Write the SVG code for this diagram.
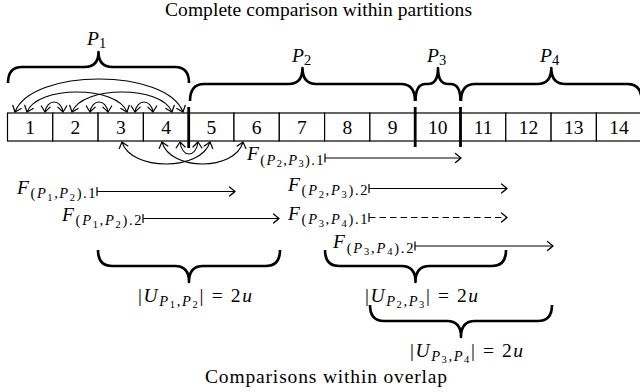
<svg xmlns="http://www.w3.org/2000/svg" width="640" height="392" viewBox="0 0 640 392" font-family="'Liberation Serif', 'DejaVu Serif', serif">
<style>
text{font-family:"Liberation Serif","DejaVu Serif",serif;fill:#000;font-size:19.5px}
.i{font-style:italic}
.s{font-size:14.5px}
.ss{font-size:10.5px}
.cell rect{fill:#fff;stroke:#000;stroke-width:1.2}
.num{text-anchor:middle}
.brace{fill:none;stroke:#000;stroke-width:2.6;stroke-linejoin:round;stroke-linecap:butt}
.sep{stroke:#000;stroke-width:2.8}
.arc{fill:none;stroke:#000;stroke-width:1.1;marker-start:url(#ah);marker-end:url(#ah)}
.farr{fill:none;stroke:#000;stroke-width:1.2;marker-start:url(#bar);marker-end:url(#ah)}
.dash{stroke-dasharray:6.5 4}
</style>
<defs>
<marker id="ah" markerUnits="userSpaceOnUse" viewBox="-7 -6 8 12" refX="0" refY="0" markerWidth="8" markerHeight="12" orient="auto-start-reverse">
<path d="M-5.5,-4.5 Q-1.8,-1.5 0,0 Q-1.8,1.5 -5.5,4.5" fill="none" stroke="#000" stroke-width="1.2" stroke-linecap="round"/>
</marker>
<marker id="bar" markerUnits="userSpaceOnUse" viewBox="-2 -6 4 12" refX="0" refY="0" markerWidth="4" markerHeight="12" orient="auto">
<path d="M0,-4.5 L0,4.5" stroke="#000" stroke-width="1.2"/>
</marker>
</defs>

<text x="165" y="16" textLength="307" lengthAdjust="spacing">Complete comparison within partitions</text>

<g id="cells">
<g id="cell-1" class="cell"><rect x="7.5" y="113" width="45.3" height="28"/><text class="num" x="30.15" y="133.5">1</text></g>
<g id="cell-2" class="cell"><rect x="52.8" y="113" width="45.3" height="28"/><text class="num" x="75.45" y="133.5">2</text></g>
<g id="cell-3" class="cell"><rect x="98.1" y="113" width="45.3" height="28"/><text class="num" x="120.75" y="133.5">3</text></g>
<g id="cell-4" class="cell"><rect x="143.4" y="113" width="45.3" height="28"/><text class="num" x="166.05" y="133.5">4</text></g>
<g id="cell-5" class="cell"><rect x="188.7" y="113" width="45.3" height="28"/><text class="num" x="211.35" y="133.5">5</text></g>
<g id="cell-6" class="cell"><rect x="234" y="113" width="45.3" height="28"/><text class="num" x="256.65" y="133.5">6</text></g>
<g id="cell-7" class="cell"><rect x="279.3" y="113" width="45.3" height="28"/><text class="num" x="301.95" y="133.5">7</text></g>
<g id="cell-8" class="cell"><rect x="324.6" y="113" width="45.3" height="28"/><text class="num" x="347.25" y="133.5">8</text></g>
<g id="cell-9" class="cell"><rect x="369.9" y="113" width="45.3" height="28"/><text class="num" x="392.55" y="133.5">9</text></g>
<g id="cell-10" class="cell"><rect x="415.2" y="113" width="45.3" height="28"/><text class="num" x="437.85" y="133.5">10</text></g>
<g id="cell-11" class="cell"><rect x="460.5" y="113" width="45.3" height="28"/><text class="num" x="483.15" y="133.5">11</text></g>
<g id="cell-12" class="cell"><rect x="505.8" y="113" width="45.3" height="28"/><text class="num" x="528.45" y="133.5">12</text></g>
<g id="cell-13" class="cell"><rect x="551.1" y="113" width="45.3" height="28"/><text class="num" x="573.75" y="133.5">13</text></g>
<g id="cell-14" class="cell"><rect x="596.4" y="113" width="45.3" height="28"/><text class="num" x="619.05" y="133.5">14</text></g>
</g>

<g id="separators">
<line class="sep" x1="188.7" y1="107" x2="188.7" y2="148"/>
<line class="sep" x1="415.2" y1="107" x2="415.2" y2="147"/>
<line class="sep" x1="460.5" y1="107" x2="460.5" y2="147"/>
</g>

<g id="partition-braces">
<path class="brace" d="M8,83 Q8,67 22,67 L84.5,67 Q98.5,67 98.5,52 Q98.5,67 112.5,67 L175,67 Q189,67 189,83"/>
<text x="87" y="45"><tspan class="i">P</tspan><tspan class="s" dy="3">1</tspan></text>
<path class="brace" d="M190,101 Q190,84 204,84 L288.5,84 Q302.5,84 302.5,68 Q302.5,84 316.5,84 L401,84 Q415,84 415,101"/>
<text x="292" y="62"><tspan class="i">P</tspan><tspan class="s" dy="3">2</tspan></text>
<path class="brace" d="M415.5,101 Q415.5,84 425.5,84 L428,84 Q438,84 438,68 Q438,84 448,84 L450.5,84 Q460.5,84 460.5,101"/>
<text x="427" y="62"><tspan class="i">P</tspan><tspan class="s" dy="3">3</tspan></text>
<path class="brace" d="M461,101 Q461,84 475,84 L537.3,84 Q551.3,84 551.3,68 Q551.3,84 565.3,84 L627.7,84 Q641.7,84 641.7,101"/>
<text x="540" y="62"><tspan class="i">P</tspan><tspan class="s" dy="3">4</tspan></text>
</g>

<g id="connectors">
<path class="arc" d="M15,112 C31.8,68 166.2,68 183,112"/>
<path class="arc" d="M27,112 C37,85.3 117,85.3 127,112"/>
<path class="arc" d="M72,112 C82,85.3 162,85.3 172,112"/>
<path class="arc" d="M45,112 C46.8,98.7 61.2,98.7 63,112"/>
<path class="arc" d="M90,112 C91.8,98.7 106.2,98.7 108,112"/>
<path class="arc" d="M135,112 C136.8,98.7 151.2,98.7 153,112"/>
<path class="arc" d="M122,142 C130.8,171.3 201.2,171.3 210,142"/>
<path class="arc" d="M162,142 C170.1,171.3 234.9,171.3 243,142"/>
<path class="arc" d="M180,142 C181.8,158 196.2,158 198,142"/>
<path class="farr" d="M97,191.5 H235"/>
<path class="farr" d="M143,218.5 H279"/>
<path class="farr" d="M325,158 H461"/>
<path class="farr" d="M369,188.5 H507"/>
<path class="farr dash" d="M369,217.5 H507"/>
<path class="farr" d="M415,246 H553"/>
</g>

<g id="arrow-labels">
<text x="17" y="193.5" textLength="78.5" lengthAdjust="spacing"><tspan class="i">F</tspan><tspan class="s" dy="4.5">(</tspan><tspan class="s i">P</tspan><tspan class="ss" dy="2.5">1</tspan><tspan class="s" dy="-2.5">,</tspan><tspan class="s i">P</tspan><tspan class="ss" dy="2.5">2</tspan><tspan class="s" dy="-2.5">).1</tspan></text>
<text x="62" y="220.5" textLength="79.5" lengthAdjust="spacing"><tspan class="i">F</tspan><tspan class="s" dy="4.5">(</tspan><tspan class="s i">P</tspan><tspan class="ss" dy="2.5">1</tspan><tspan class="s" dy="-2.5">,</tspan><tspan class="s i">P</tspan><tspan class="ss" dy="2.5">2</tspan><tspan class="s" dy="-2.5">).2</tspan></text>
<text x="247" y="160" textLength="76.5" lengthAdjust="spacing"><tspan class="i">F</tspan><tspan class="s" dy="4.5">(</tspan><tspan class="s i">P</tspan><tspan class="ss" dy="2.5">2</tspan><tspan class="s" dy="-2.5">,</tspan><tspan class="s i">P</tspan><tspan class="ss" dy="2.5">3</tspan><tspan class="s" dy="-2.5">).1</tspan></text>
<text x="288" y="190.5" textLength="79.5" lengthAdjust="spacing"><tspan class="i">F</tspan><tspan class="s" dy="4.5">(</tspan><tspan class="s i">P</tspan><tspan class="ss" dy="2.5">2</tspan><tspan class="s" dy="-2.5">,</tspan><tspan class="s i">P</tspan><tspan class="ss" dy="2.5">3</tspan><tspan class="s" dy="-2.5">).2</tspan></text>
<text x="288" y="219.5" textLength="79.5" lengthAdjust="spacing"><tspan class="i">F</tspan><tspan class="s" dy="4.5">(</tspan><tspan class="s i">P</tspan><tspan class="ss" dy="2.5">3</tspan><tspan class="s" dy="-2.5">,</tspan><tspan class="s i">P</tspan><tspan class="ss" dy="2.5">4</tspan><tspan class="s" dy="-2.5">).1</tspan></text>
<text x="333" y="248" textLength="80.5" lengthAdjust="spacing"><tspan class="i">F</tspan><tspan class="s" dy="4.5">(</tspan><tspan class="s i">P</tspan><tspan class="ss" dy="2.5">3</tspan><tspan class="s" dy="-2.5">,</tspan><tspan class="s i">P</tspan><tspan class="ss" dy="2.5">4</tspan><tspan class="s" dy="-2.5">).2</tspan></text>
</g>

<g id="overlap-braces">
<path class="brace" d="M98,250 Q98,266 112,266 L175,266 Q189,266 189,282 Q189,266 203,266 L266,266 Q280,266 280,250"/>
<text x="138" y="301.5" textLength="114" lengthAdjust="spacing">|<tspan class="i">U</tspan><tspan class="s i" dy="4">P</tspan><tspan class="ss" dy="2">1</tspan><tspan class="s" dy="-2">,</tspan><tspan class="s i">P</tspan><tspan class="ss" dy="2">2</tspan><tspan dy="-6">| = 2</tspan><tspan class="i">u</tspan></text>
<path class="brace" d="M325,250 Q325,266 339,266 L401.5,266 Q415.5,266 415.5,282 Q415.5,266 429.5,266 L492,266 Q506,266 506,250"/>
<text x="365" y="301.5" textLength="113" lengthAdjust="spacing">|<tspan class="i">U</tspan><tspan class="s i" dy="4">P</tspan><tspan class="ss" dy="2">2</tspan><tspan class="s" dy="-2">,</tspan><tspan class="s i">P</tspan><tspan class="ss" dy="2">3</tspan><tspan dy="-6">| = 2</tspan><tspan class="i">u</tspan></text>
<path class="brace" d="M370,305 Q370,321 384,321 L447,321 Q461,321 461,337 Q461,321 475,321 L538,321 Q552,321 552,305"/>
<text x="410" y="356.5" textLength="113" lengthAdjust="spacing">|<tspan class="i">U</tspan><tspan class="s i" dy="4">P</tspan><tspan class="ss" dy="2">3</tspan><tspan class="s" dy="-2">,</tspan><tspan class="s i">P</tspan><tspan class="ss" dy="2">4</tspan><tspan dy="-6">| = 2</tspan><tspan class="i">u</tspan></text>
</g>

<text x="205" y="383" textLength="242" lengthAdjust="spacing">Comparisons within overlap</text>
</svg>
